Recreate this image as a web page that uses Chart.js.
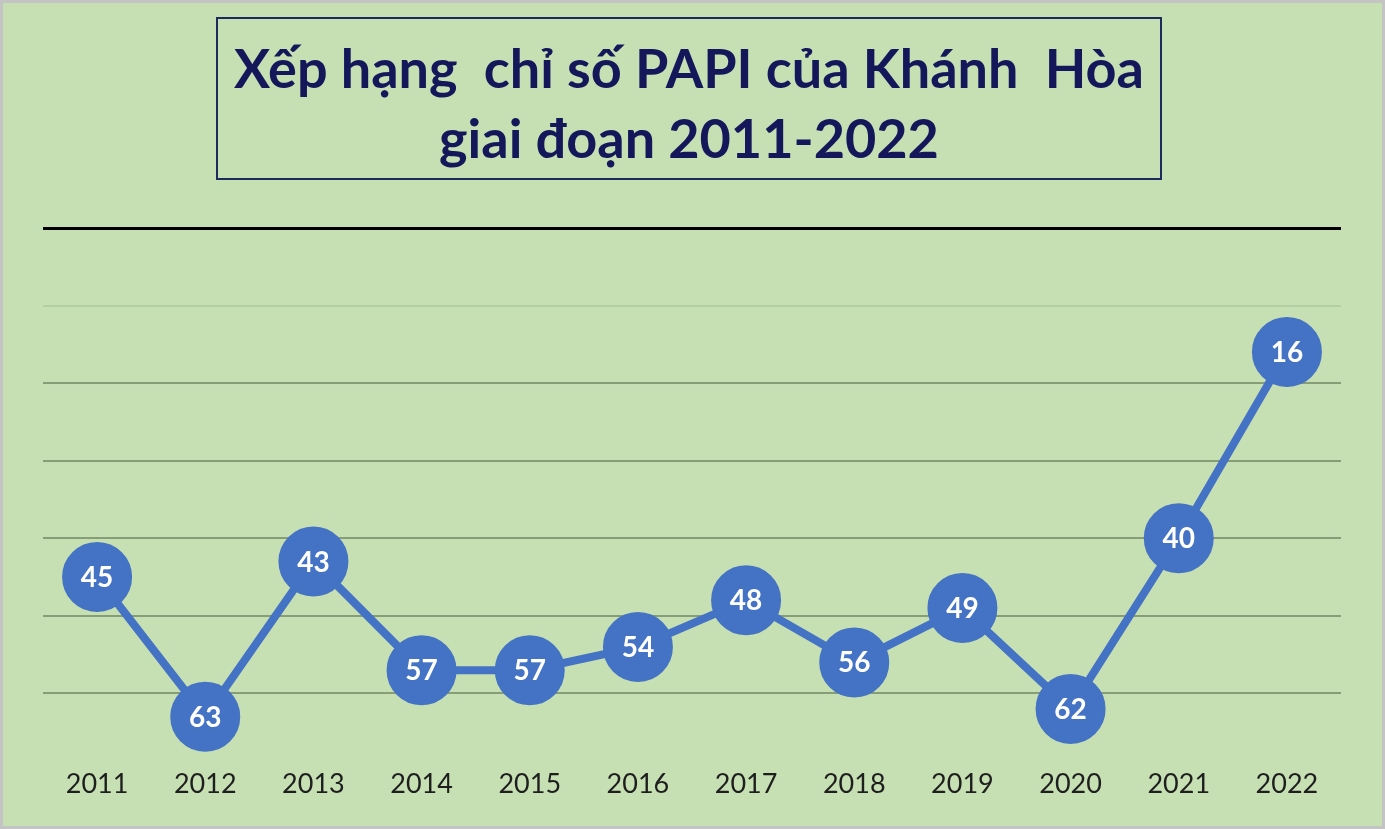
<!DOCTYPE html>
<html lang="vi">
<head>
  <meta charset="UTF-8">
  <title>Xếp hạng chỉ số PAPI của Khánh Hòa</title>
  <style>
    html, body {
      margin: 0;
      padding: 0;
      background: #c6e0b4;
      overflow: hidden;
    }
    .wrap {
      position: relative;
      width: 1385px;
      height: 829px;
      background: #c6e0b4;
    }
    .frame {
      position: absolute;
      left: 0; top: 0; right: 0; bottom: 0;
      border: 3px solid #c4c4c4;
      pointer-events: none;
    }
    .title-box {
      position: absolute;
      left: 216px;
      top: 17px;
      width: 946px;
      height: 163px;
      box-sizing: border-box;
      border: 2px solid #1f2a5c;
      color: #14185a;
      font-family: Lato, "Open Sans", sans-serif;
      font-weight: bold;
      font-size: 54px;
      line-height: 70px;
      text-align: center;
      white-space: pre;
      padding-top: 14px;
    }
    canvas {
      position: absolute;
      left: 0;
      top: 0;
    }
  </style>
</head>
<body>
  <div class="wrap">
    <canvas id="papiChart" width="1385" height="829"></canvas>
    <div class="title-box">Xếp hạng  chỉ số PAPI của Khánh  Hòa
giai đoạn 2011-2022</div>
    <div class="frame"></div>
  </div>

  <script src="https://cdn.jsdelivr.net/npm/chart.js"></script>
  <script>
    const years = ['2011', '2012', '2013', '2014', '2015', '2016', '2017', '2018', '2019', '2020', '2021', '2022'];
    const ranks = [45, 63, 43, 57, 57, 54, 48, 56, 49, 62, 40, 16];
    const rankTicks = [0, 10, 20, 30, 40, 50, 60, 70];

    // draw the rank number inside each circle
    const pointLabels = {
      id: 'pointLabels',
      afterDatasetsDraw(chart) {
        const c = chart.ctx;
        const meta = chart.getDatasetMeta(0);
        c.save();
        c.fillStyle = '#ffffff';
        c.font = 'bold 28px Lato, "Open Sans", sans-serif';
        c.textAlign = 'center';
        c.textBaseline = 'middle';
        meta.data.forEach((pt, i) => {
          c.fillText(String(ranks[i]), pt.x, pt.y + 1);
        });
        c.restore();
      }
    };

    new Chart(document.getElementById('papiChart').getContext('2d'), {
      type: 'line',
      data: {
        labels: years,
        datasets: [{
          label: 'Xếp hạng',
          data: ranks,
          borderColor: '#4472c4',
          borderWidth: 8,
          backgroundColor: '#4472c4',
          pointBackgroundColor: '#4472c4',
          pointBorderColor: '#4472c4',
          pointRadius: 31,
          pointHoverRadius: 31,
          tension: 0,
          clip: false
        }]
      },
      options: {
        responsive: false,
        animation: false,
        events: [],
        layout: {
          padding: { left: 43, right: 44, top: 228, bottom: 31 }
        },
        plugins: {
          legend: { display: false },
          tooltip: { enabled: false }
        },
        scales: {
          x: {
            offset: true,
            grid: { display: false, drawTicks: false },
            border: { display: false },
            ticks: {
              padding: 0,
              color: '#1e1e1e',
              font: { family: 'Lato, "Open Sans", sans-serif', size: 27, lineHeight: 1 }
            }
          },
          y: {
            reverse: true,
            min: 0,
            max: 70,
            afterBuildTicks(axis) {
              axis.ticks = rankTicks.map(v => ({ value: v }));
            },
            border: { display: false },
            ticks: { display: false },
            grid: {
              drawTicks: false,
              color(ctx) {
                const v = ctx.tick ? ctx.tick.value : null;
                if (v === 0) return '#000000';
                if (v === 70) return 'rgba(0,0,0,0)';
                if (v === 10) return '#b4cfa2';
                return '#879d78';
              },
              lineWidth(ctx) {
                return ctx.tick && ctx.tick.value === 0 ? 3 : 2;
              }
            }
          }
        }
      },
      plugins: [pointLabels]
    });
  </script>
</body>
</html>
